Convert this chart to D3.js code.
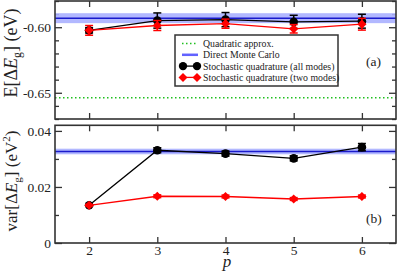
<!DOCTYPE html>
<html><head><meta charset="utf-8">
<script src="https://cdn.jsdelivr.net/npm/d3@7/dist/d3.min.js"></script>
<style>
body{margin:0;background:#fff;}
</style>
</head><body>
<svg id="c" width="399" height="272"></svg>
<script>
// ---- data ----
const pValues = [2, 3, 4, 5, 6];
// Top panel: E[ΔE_g] (eV)
const meanAll = [-0.6024, -0.5949, -0.5942, -0.5959, -0.5954];
const meanAllErr = [0.002, 0.0058, 0.0054, 0.0050, 0.0053];
const meanTwo = [-0.6024, -0.5987, -0.5973, -0.6012, -0.5977];
const meanTwoErr = [0.0037, 0.0038, 0.0035, 0.0032, 0.0045];
const mcMean = -0.5931, mcMeanErr = 0.0038;
const quadMean = -0.6538;
// Bottom panel: var[ΔE_g] (eV^2)
const varAll = [0.01346, 0.0331, 0.0319, 0.0302, 0.0342];
const varAllErr = [0.0003, 0.0009, 0.0009, 0.0009, 0.0013];
const varTwo = [0.01346, 0.01668, 0.0166, 0.0157, 0.0166];
const varTwoErr = [0.0003, 0.0005, 0.0005, 0.0005, 0.0005];
const mcVar = 0.03265, mcVarErr = 0.0010;
const topMajor = [-0.65, -0.60];
const topMinor = [-0.67, -0.66, -0.64, -0.63, -0.62, -0.61, -0.59, -0.58];
const botMajor = [0, 0.02, 0.04];
const botMinor = [0.01, 0.03];
const legendLabels = ["Quadratic approx.", "Direct Monte Carlo", "Stochastic quadrature (all modes)", "Stochastic quadrature (two modes)"];

// ---- drawing ----
const FONT = "'Liberation Serif', 'Times New Roman', 'DejaVu Serif', serif";
const svg = d3.select("#c").attr("font-family", FONT);
const L = 55, R = 396;
const x = d3.scaleLinear().domain([1.5, 6.5]).range([L, R]);
const yT = d3.scaleLinear().domain([-0.67, -0.58]).range([119, 1]);
const yB = d3.scaleLinear().domain([0, 0.042]).range([243, 125.3]);
const frameCol = "#333";

function diamond(r){ return `M0,${-r}L${r},0L0,${r}L${-r},0Z`; }

function panel(y, major, minor, fmt){
  const [y0, y1] = y.range();
  const g = svg.append("g");
  const ax = (a, tr) => { const s = g.append("g").attr("transform", tr).call(a); s.select(".domain").remove(); s.selectAll("line").attr("stroke", frameCol).attr("stroke-width", 1.3); return s; };
  const left = ax(d3.axisLeft(y).tickValues(major).tickSize(-7).tickPadding(4).tickFormat(fmt), `translate(${L},0)`);
  left.selectAll("text").attr("font-size", "13.5px").attr("fill", "#222");
  ax(d3.axisLeft(y).tickValues(minor).tickSize(-4).tickFormat(""), `translate(${L},0)`);
  ax(d3.axisRight(y).tickValues(major).tickSize(-7).tickFormat(""), `translate(${R},0)`);
  ax(d3.axisRight(y).tickValues(minor).tickSize(-4).tickFormat(""), `translate(${R},0)`);
  ax(d3.axisTop(x).tickValues(pValues).tickSize(-6).tickFormat(""), `translate(0,${y1})`);
  const bot = ax(d3.axisBottom(x).tickValues(pValues).tickSize(-6).tickPadding(2.5).tickFormat(d3.format("d")), `translate(0,${y0})`);
  return {g, bot};
}

function series(g, y, vals, errs, color, marker){
  const line = d3.line().x((d,i)=>x(pValues[i])).y(d=>y(d));
  g.append("path").attr("d", line(vals)).attr("fill","none").attr("stroke", color).attr("stroke-width", 1.3);
  vals.forEach((v,i)=>{
    const cx = x(pValues[i]);
    const a = y(v+errs[i]), b = y(v-errs[i]);
    g.append("line").attr("x1",cx).attr("x2",cx).attr("y1",a).attr("y2",b).attr("stroke",color).attr("stroke-width",1.5);
    [a,b].forEach(yy=>g.append("line").attr("x1",cx-4).attr("x2",cx+4).attr("y1",yy).attr("y2",yy).attr("stroke",color).attr("stroke-width",1.5));
    if(marker==="circle") g.append("circle").attr("cx",cx).attr("cy",y(v)).attr("r",4.3).attr("fill",color);
    else g.append("path").attr("d",diamond(4.6)).attr("transform",`translate(${cx},${y(v)})`).attr("fill",color);
  });
}

function band(g, y, v, e){
  g.append("rect").attr("x",L).attr("width",R-L).attr("y",y(v+e)).attr("height",y(v-e)-y(v+e)).attr("fill","#aab0ff").attr("opacity",0.9);
  g.append("line").attr("x1",L).attr("x2",R).attr("y1",y(v)).attr("y2",y(v)).attr("stroke","#1a1acc").attr("stroke-width",1.6);
}

// Top panel
const topPanel = panel(yT, topMajor, topMinor, d=>d.toFixed(2));
topPanel.bot.selectAll("text").remove();
const gT = svg.append("g");
band(gT, yT, mcMean, mcMeanErr);
gT.append("line").attr("x1",L).attr("x2",R).attr("y1",yT(quadMean)).attr("y2",yT(quadMean)).attr("stroke","#1fbf1f").attr("stroke-width",1.4).attr("stroke-dasharray","1.5,2.5");
series(gT, yT, meanAll, meanAllErr, "#000", "circle");
series(gT, yT, meanTwo, meanTwoErr, "#ff0000", "diamond");
svg.append("rect").attr("x",L).attr("y",yT.range()[1]).attr("width",R-L).attr("height",yT.range()[0]-yT.range()[1]).attr("fill","none").attr("stroke",frameCol).attr("stroke-width",1.6);

// Bottom panel
const botPanel = panel(yB, botMajor, botMinor, d=>d===0?"0":d.toFixed(2));
botPanel.bot.selectAll("text").attr("font-size","13.5px").attr("fill","#222");
const gB = svg.append("g");
band(gB, yB, mcVar, mcVarErr);
series(gB, yB, varAll, varAllErr, "#000", "circle");
series(gB, yB, varTwo, varTwoErr, "#ff0000", "diamond");
svg.append("rect").attr("x",L).attr("y",yB.range()[1]).attr("width",R-L).attr("height",yB.range()[0]-yB.range()[1]).attr("fill","none").attr("stroke",frameCol).attr("stroke-width",1.6);

// Legend
const lg = svg.append("g");
lg.append("rect").attr("x",175).attr("y",35).attr("width",163).attr("height",51).attr("fill","#fff").attr("stroke",frameCol).attr("stroke-width",1.5);
const rowY = [43.5, 54.8, 66.1, 77.4];
legendLabels.forEach((t,i)=>{
  const yy = rowY[i];
  if(i===0) lg.append("line").attr("x1",182).attr("x2",198).attr("y1",yy).attr("y2",yy).attr("stroke","#1fbf1f").attr("stroke-width",1.4).attr("stroke-dasharray","1.5,2.5");
  if(i===1) lg.append("line").attr("x1",182).attr("x2",198).attr("y1",yy).attr("y2",yy).attr("stroke","#3b3bff").attr("stroke-width",2.5).attr("opacity",0.8);
  if(i===2){ lg.append("line").attr("x1",182).attr("x2",198).attr("y1",yy).attr("y2",yy).attr("stroke","#000").attr("stroke-width",1.3);
    [183,197].forEach(cx=>lg.append("circle").attr("cx",cx).attr("cy",yy).attr("r",4.2).attr("fill","#000")); }
  if(i===3){ lg.append("line").attr("x1",182).attr("x2",198).attr("y1",yy).attr("y2",yy).attr("stroke","#f00").attr("stroke-width",1.3);
    [183,197].forEach(cx=>lg.append("path").attr("d",diamond(4.5)).attr("transform",`translate(${cx},${yy})`).attr("fill","#f00")); }
  lg.append("text").attr("x",203).attr("y",yy+3.4).attr("font-size","9.8px").text(t);
});

// Panel labels
svg.append("text").attr("x",366).attr("y",66).attr("font-size","13.5px").text("(a)");
svg.append("text").attr("x",366).attr("y",223).attr("font-size","13.5px").text("(b)");

// Axis titles
function ylab(cx, cy, fs, pre, post){
  const t = svg.append("text").attr("transform",`translate(${cx},${cy}) rotate(-90)`).attr("text-anchor","middle").attr("font-size",fs+"px");
  t.append("tspan").text(pre+"[Δ");
  t.append("tspan").attr("font-style","italic").text("E");
  t.append("tspan").attr("font-size",(fs*0.65)+"px").attr("dy",4).text("g");
  t.append("tspan").attr("dy",-4).text("] (eV");
  if(post) t.append("tspan").attr("font-size",(fs*0.65)+"px").attr("dy",-7).text(post);
  t.append("tspan").attr("dy", post?7:0).text(")");
}
ylab(16.5, 53, 18, "E", "");
ylab(16.5, 181, 17, "var", "2");
svg.append("text").attr("x",227).attr("y",266.5).attr("text-anchor","middle").attr("font-size","17px").attr("font-style","italic").text("p");

svg.selectAll("text").style("font-family", FONT).attr("fill", "#222");
</script>
</body></html>
